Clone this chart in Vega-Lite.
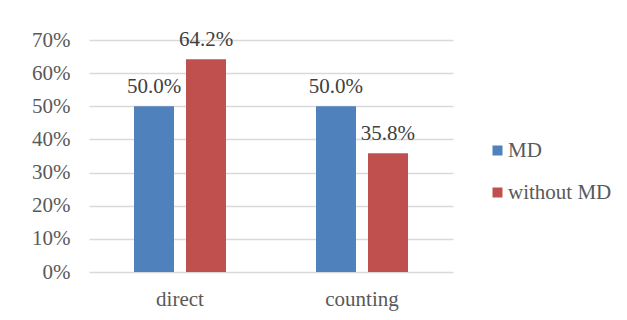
{
  "$schema": "https://vega.github.io/schema/vega-lite/v6.json",
  "width": 364,
  "height": 232,
  "autosize": {"type": "none"},
  "padding": {"left": 89, "top": 40, "right": 174, "bottom": 48},
  "background": "white",
  "config": {"view": {"stroke": null}, "font": "Liberation Serif"},
  "data": {
    "values": [
      {"task": "direct", "group": "MD", "value": 0.5},
      {"task": "direct", "group": "without MD", "value": 0.642},
      {"task": "counting", "group": "MD", "value": 0.5},
      {"task": "counting", "group": "without MD", "value": 0.358}
    ]
  },
  "encoding": {
    "x": {
      "field": "task", "type": "nominal", "sort": ["direct", "counting"],
      "scale": {"paddingInner": 0.4945, "paddingOuter": 0.2473},
      "axis": {"title": null, "labelAngle": 0, "domain": false, "ticks": false, "labelFont": "Liberation Serif", "labelFontSize": 21, "labelColor": "#595959", "labelPadding": 16}
    },
    "xOffset": {
      "field": "group", "type": "nominal", "sort": ["MD", "without MD"],
      "scale": {"paddingInner": 0.2308, "paddingOuter": 0}
    },
    "y": {
      "field": "value", "type": "quantitative",
      "scale": {"domain": [0, 0.7], "nice": false},
      "axis": {"title": null, "values": [0, 0.1, 0.2, 0.3, 0.4, 0.5, 0.6, 0.7], "format": ".0%", "domain": false, "ticks": false, "grid": true, "gridColor": "#d9d9d9", "gridWidth": 1.5, "labelFont": "Liberation Serif", "labelFontSize": 21, "labelColor": "#595959", "labelPadding": 19}
    }
  },
  "layer": [
    {
      "mark": {"type": "bar"},
      "encoding": {
        "color": {
          "field": "group", "type": "nominal", "sort": ["MD", "without MD"],
          "scale": {"domain": ["MD", "without MD"], "range": ["#4F81BD", "#C0504D"]},
          "legend": {"title": null, "orient": "none", "legendX": 398, "legendY": 100, "symbolType": "square", "symbolSize": 100, "symbolStrokeWidth": 0, "labelFont": "Liberation Serif", "labelFontSize": 21, "labelColor": "#595959", "rowPadding": 20, "padding": 0, "labelOffset": 0}
        }
      }
    },
    {
      "mark": {"type": "text", "baseline": "alphabetic", "dy": -13, "fontSize": 21, "color": "#404040", "font": "Liberation Serif"},
      "encoding": {"text": {"field": "value", "type": "quantitative", "format": ".1%"}}
    }
  ]
}
